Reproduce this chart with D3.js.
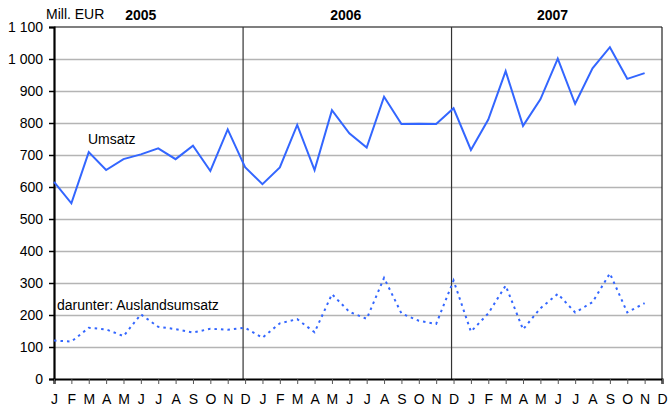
<!DOCTYPE html>
<html>
<head>
<meta charset="utf-8">
<script src="https://cdn.jsdelivr.net/npm/d3@7"></script>
<style>
  body { margin: 0; background: #fff; }
  text { font-family: "Liberation Sans", Arial, sans-serif; fill: #000; }
</style>
</head>
<body>
<div id="chart"></div>
<script>
// chart size
var width = 668
var height = 414
var margin = {top: 27, right: 6, bottom: 35, left: 54}

// month labels, Jan 2005 .. Dec 2007
var months = ["J","F","M","A","M","J","J","A","S","O","N","D",
              "J","F","M","A","M","J","J","A","S","O","N","D",
              "J","F","M","A","M","J","J","A","S","O","N","D"]

// Umsatz (solid), Jan 2005 .. Nov 2007
var umsatz = [616, 549, 709, 653, 687, 702, 721, 687, 729, 650, 780, 662,
              609, 661, 794, 653, 840, 768, 723, 882, 797, 798, 797, 846,
              716, 811, 962, 791, 874, 1001, 860, 971, 1037, 938, 956]

// darunter: Auslandsumsatz (dotted)
var ausland = [120, 117, 160, 155, 134, 202, 163, 156, 145, 157, 154, 160,
               129, 174, 187, 146, 265, 210, 188, 316, 205, 182, 172, 308,
               148, 205, 292, 155, 221, 266, 208, 240, 330, 208, 237]

var years = ["2005", "2006", "2007"]
var yearPos = [5, 16.8, 28.7]   // month index where the year label sits
var dividers = [11, 23]          // December 2005, December 2006
var yTicks = d3.range(0, 1101, 100)

var svg = d3.select("#chart")
  .append("svg")
    .attr("width", width)
    .attr("height", height)

var x = d3.scaleLinear()
  .domain([0, months.length - 1])
  .range([margin.left, width - margin.right])

var y = d3.scaleLinear()
  .domain([0, 1100])
  .range([height - margin.bottom, margin.top])

var fmt = function(d){ return d3.format(",")(d).replace(",", " ") }

// gridlines
svg.append("g")
  .selectAll("line")
  .data(yTicks.filter(function(d){ return d > 0 && d < 1100 }))
  .enter().append("line")
    .attr("x1", x(0)).attr("x2", x(months.length - 1))
    .attr("y1", function(d){ return Math.round(y(d)) + 0.5 })
    .attr("y2", function(d){ return Math.round(y(d)) + 0.5 })
    .attr("stroke", "#b4b4b4")
    .attr("stroke-width", 1.4)

// frame top + right
svg.append("line")
  .attr("x1", x(0)).attr("x2", x(months.length - 1))
  .attr("y1", y(1100)).attr("y2", y(1100))
  .attr("stroke", "#000").attr("stroke-width", 1.2)
svg.append("line")
  .attr("x1", x(months.length - 1)).attr("x2", x(months.length - 1))
  .attr("y1", y(1100)).attr("y2", y(0))
  .attr("stroke", "#222").attr("stroke-width", 1.2)

// year dividers
svg.append("g")
  .selectAll("line")
  .data(dividers)
  .enter().append("line")
    .attr("x1", function(d){ return x(d) - 2 })
    .attr("x2", function(d){ return x(d) - 2 })
    .attr("y1", y(1100)).attr("y2", y(0))
    .attr("stroke", "#333")
    .attr("stroke-width", 1.2)

// y axis
var yAxis = svg.append("g")
  .attr("transform", "translate(" + x(0) + ",0)")
  .call(d3.axisLeft(y).tickValues(yTicks).tickSize(5).tickPadding(6).tickFormat(fmt))
yAxis.select(".domain").attr("stroke", "#000").attr("stroke-width", 2.2)
yAxis.selectAll(".tick line").attr("stroke", "#000").attr("stroke-width", 1.5)
yAxis.selectAll("text")
  .style("font-size", "14px")
  .style("font-family", "'Liberation Sans', Arial, sans-serif")
  .attr("fill", "#000")

// x axis
var xAxis = svg.append("g")
  .attr("transform", "translate(0," + y(0) + ")")
  .call(d3.axisBottom(x).tickValues(d3.range(months.length)).tickSize(5).tickPadding(10)
    .tickFormat(function(i){ return months[i] }))
xAxis.select(".domain").attr("stroke", "#000").attr("stroke-width", 2.2)
xAxis.selectAll(".tick line").attr("stroke", "#555").attr("stroke-width", 1)
xAxis.selectAll("text")
  .style("font-size", "14px")
  .style("font-family", "'Liberation Sans', Arial, sans-serif")
  .attr("fill", "#000")

// lines
var line = d3.line()
  .x(function(d, i){ return x(i) })
  .y(function(d){ return y(d) })

svg.append("path")
  .datum(umsatz)
  .attr("d", line)
  .attr("fill", "none")
  .attr("stroke", "#3366ff")
  .attr("stroke-width", 2)

svg.append("path")
  .datum(ausland)
  .attr("d", line)
  .attr("fill", "none")
  .attr("stroke", "#3366ff")
  .attr("stroke-width", 2)
  .attr("stroke-dasharray", "2.5,4")

// labels
svg.append("text")
  .attr("x", 46).attr("y", 19)
  .style("font-size", "14px")
  .text("Mill. EUR")

svg.append("g")
  .selectAll("text")
  .data(years)
  .enter().append("text")
    .attr("x", function(d, i){ return x(yearPos[i]) })
    .attr("y", 20)
    .attr("text-anchor", "middle")
    .style("font-size", "14px")
    .style("font-weight", "bold")
    .text(function(d){ return d })

svg.append("text")
  .attr("x", 88).attr("y", 144)
  .style("font-size", "14px")
  .text("Umsatz")

svg.append("text")
  .attr("x", 57).attr("y", 310)
  .style("font-size", "14px")
  .text("darunter: Auslandsumsatz")
</script>
</body>
</html>
